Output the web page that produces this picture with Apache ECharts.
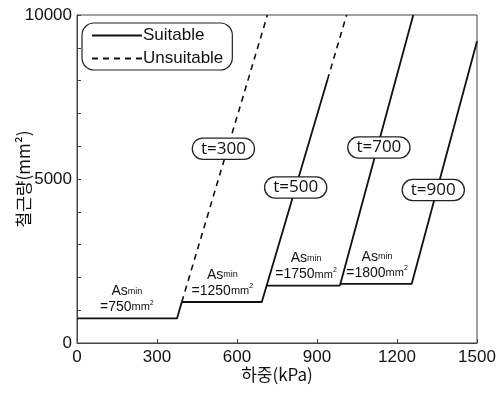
<!DOCTYPE html>
<html>
<head>
<meta charset="utf-8">
<script src="https://cdn.jsdelivr.net/npm/echarts@6/dist/echarts.min.js"></script>
<style>
  html, body { margin: 0; padding: 0; background: #fff; }
  #chart { width: 503px; height: 397px; }
</style>
</head>
<body>
<div id="chart"></div>
<script>
// Axis ranges and ticks
const xTicks = [0, 300, 600, 900, 1200, 1500];
const yLabelled = [0, 5000, 10000];

// Slab thickness cases and their minimum reinforcement
const thickness = ['t=300', 't=500', 't=700', 't=900'];
const asMin = [750, 1250, 1750, 1800];

// Required steel area vs. load, [kPa, mm2]
const suit300 = [[0, 750], [375, 750], [393, 1250]];
const unsuit300 = [[393, 1250], [714, 10000]];
const suit500 = [[393, 1250], [693, 1250], [939, 8020]];
const unsuit500 = [[939, 8020], [1011, 10000]];
const suit700 = [[711, 1750], [986, 1750], [1261, 10000]];
const suit900 = [[988, 1800], [1255, 1800], [1500, 9200]];

const suitable = [suit300, suit500, suit700, suit900];
const unsuitable = [unsuit300, unsuit500];

// where the annotation boxes sit on the chart (kPa, mm2)
const boxAt = [[549, 5924], [820, 4741], [1132, 5960], [1336, 4665]];
const asLabelX = [187, 545, 859, 1125];

const sans = 'Liberation Sans, Arial, sans-serif';
const kr = 'Noto Sans CJK KR, sans-serif';

const chart = echarts.init(document.getElementById('chart'), null, { renderer: 'canvas' });

const solidStyle = { color: '#111', width: 1.8, type: 'solid' };
const dashStyle = { color: '#111', width: 1.6, type: [6, 5] };

const series = [];
suitable.forEach((pts, i) => {
  series.push({
    name: 'Suitable',
    type: 'line',
    data: pts,
    symbol: 'none',
    lineStyle: solidStyle,
    itemStyle: { color: '#111' },
    z: 3,
    markPoint: {
      symbol: 'rect',
      symbolSize: 0,
      silent: true,
      animation: false,
      data: [
        {
          coord: boxAt[i],
          label: {
            show: true,
            position: 'inside',
            formatter: thickness[i],
            fontFamily: 'Open Sans, sans-serif',
            fontSize: 17,
            color: '#111',
            backgroundColor: '#fff',
            borderColor: '#222',
            borderWidth: 1.3,
            borderRadius: 12,
            padding: [2, 8, 1, 8]
          }
        },
        {
          coord: [asLabelX[i], asMin[i]],
          label: {
            show: true,
            position: 'top',
            distance: 3,
            formatter: '{as|As}{mn|min}\n{v|=' + asMin[i] + '}{u|mm}{s|2}',
            align: 'center',
            lineHeight: 16,
            rich: {
              as: { fontFamily: sans, fontSize: 14, color: '#111' },
              mn: { fontFamily: sans, fontSize: 9, color: '#111' },
              v: { fontFamily: sans, fontSize: 14, color: '#111' },
              u: { fontFamily: sans, fontSize: 11, color: '#111' },
              s: { fontFamily: sans, fontSize: 7, color: '#111', verticalAlign: 'top', padding: [0, 0, 6, 0] }
            }
          }
        }
      ]
    }
  });
});
unsuitable.forEach(pts => {
  series.push({
    name: 'Unsuitable',
    type: 'line',
    data: pts,
    symbol: 'none',
    lineStyle: dashStyle,
    itemStyle: { color: '#111' },
    z: 3
  });
});

chart.setOption({
  animation: false,
  backgroundColor: '#fff',
  grid: {
    left: 77, right: 26, top: 15, bottom: 54,
    containLabel: false,
    outerBoundsMode: 'none',
    show: true, borderColor: '#444', borderWidth: 1
  },
  legend: {
    data: ['Suitable', 'Unsuitable'],
    orient: 'vertical',
    left: 82,
    top: 23,
    itemWidth: 50,
    itemHeight: 12,
    itemGap: 6,
    padding: [4, 9, 3, 9],
    borderColor: '#222',
    borderWidth: 1.2,
    borderRadius: 12,
    backgroundColor: '#fff',
    selectedMode: false,
    itemStyle: { opacity: 0 },
    textStyle: { fontFamily: sans, fontSize: 17, color: '#111', padding: [0, 0, 0, -4] }
  },
  xAxis: {
    type: 'value',
    min: xTicks[0],
    max: xTicks[xTicks.length - 1],
    interval: 300,
    name: '하중(kPa)',
    nameLocation: 'middle',
    nameGap: 23,
    nameMoveOverlap: false,
    nameTextStyle: { fontFamily: kr, fontSize: 17, color: '#111' },
    axisLine: { show: true, lineStyle: { color: '#444', width: 1 } },
    axisTick: { show: true, inside: true, length: 4, lineStyle: { color: '#444' } },
    axisLabel: { fontFamily: sans, fontSize: 17, color: '#111', margin: 6, formatter: v => String(v) },
    splitLine: { show: false }
  },
  yAxis: {
    type: 'value',
    min: 0,
    max: 10000,
    interval: 1000,
    name: '철근량(mm²)',
    nameLocation: 'middle',
    nameGap: 45,
    nameMoveOverlap: false,
    nameTextStyle: { fontFamily: kr, fontSize: 17, color: '#111' },
    axisLine: { show: true, lineStyle: { color: '#444', width: 1 } },
    axisTick: { show: true, inside: true, length: 4, lineStyle: { color: '#444' } },
    axisLabel: {
      fontFamily: sans, fontSize: 17, color: '#111', margin: 5,
      formatter: v => (yLabelled.indexOf(v) >= 0 ? String(v) : '')
    },
    splitLine: { show: false }
  },
  series: series
});
</script>
</body>
</html>
